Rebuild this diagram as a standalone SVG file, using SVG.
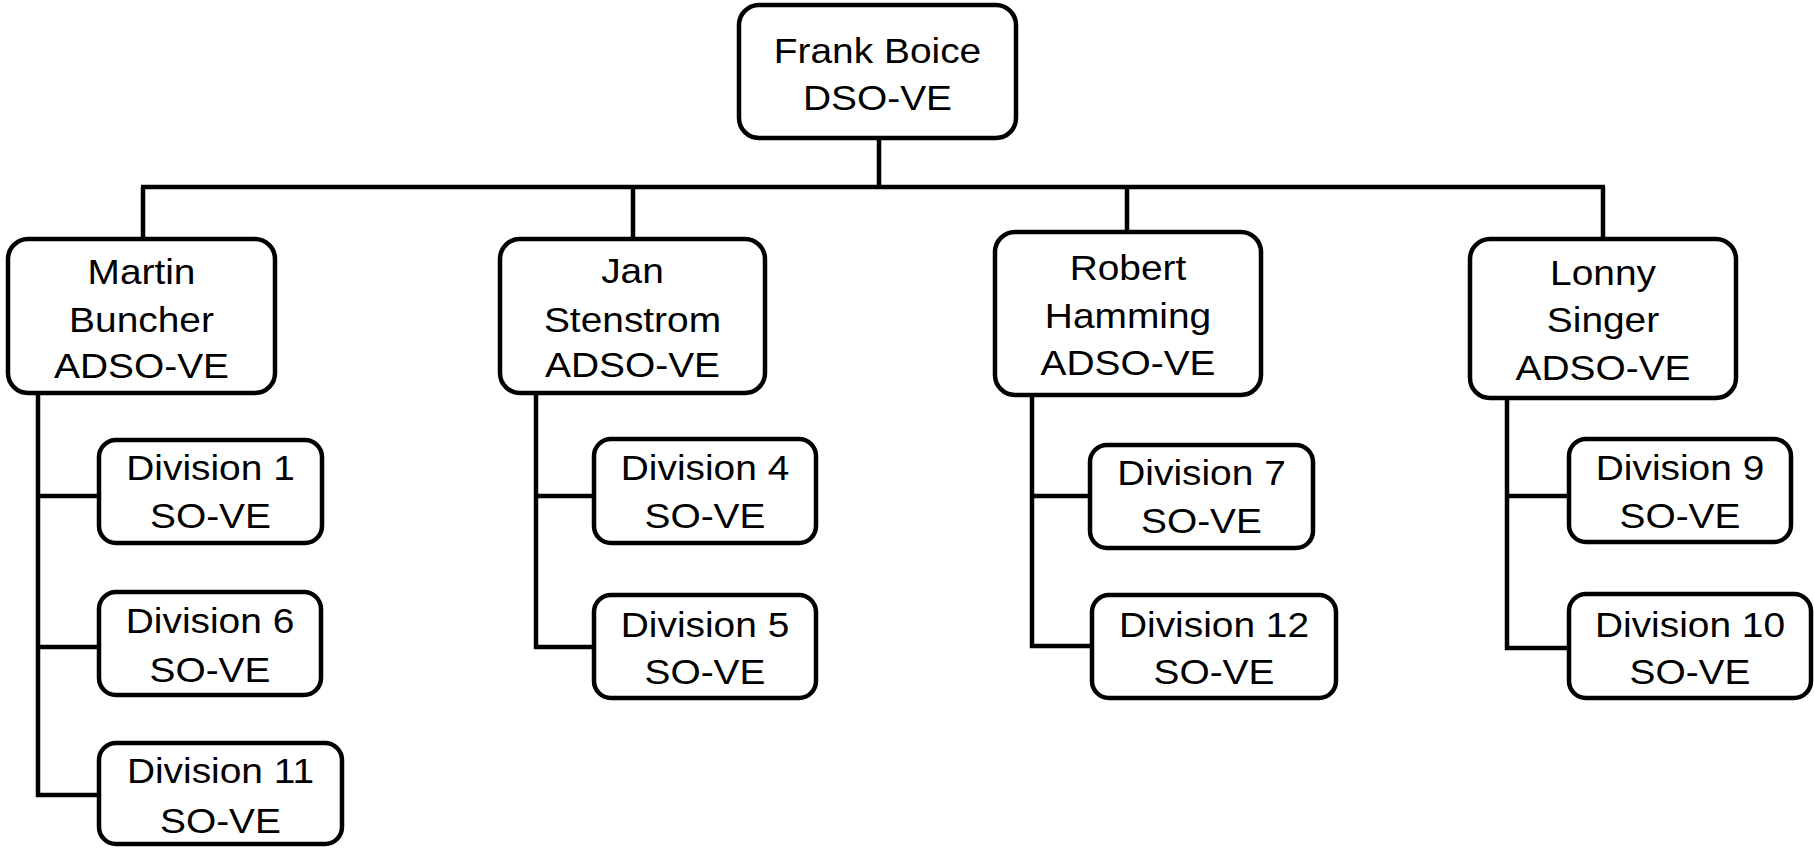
<svg xmlns="http://www.w3.org/2000/svg" width="1814" height="850" viewBox="0 0 1814 850">
<style>
.box{fill:#fff;stroke:#000;stroke-width:4.5}
.big{rx:20px;ry:20px}
.sm{rx:17px;ry:17px}
.t{font-family:"Liberation Sans",Arial,sans-serif;font-size:36px;fill:#000;text-anchor:middle}
.c{stroke:#000;stroke-width:4.5;fill:none}
</style>
<rect width="1814" height="850" fill="#fff"/>
<g id="connectors">
<path class="c" d="M879 140V187M141 187H1605M143 187V239M633 187V239M1127 187V232M1603 187V239"/>
<path class="c" d="M38 395V797M36 496H99M36 647H99M36 795H99"/>
<path class="c" d="M536 395V649M534 496H594M534 647H594"/>
<path class="c" d="M1032 397V648M1030 496H1090M1030 646H1092"/>
<path class="c" d="M1507 400V650M1505 496H1569M1505 648H1569"/>
</g>
<g id="frank">
<rect class="box big" x="739" y="5" width="277" height="133"/>
<text class="t" transform="translate(877.5 63) scale(1.08 1)">Frank Boice</text>
<text class="t" transform="translate(877.5 110) scale(1.08 1)">DSO-VE</text>
</g>
<g id="martin">
<rect class="box big" x="8" y="239" width="267" height="154"/>
<text class="t" transform="translate(141.5 284) scale(1.08 1)">Martin</text>
<text class="t" transform="translate(141.5 332) scale(1.08 1)">Buncher</text>
<text class="t" transform="translate(141.5 378) scale(1.08 1)">ADSO-VE</text>
</g>
<g id="jan">
<rect class="box big" x="500" y="239" width="265" height="154"/>
<text class="t" transform="translate(632.5 283) scale(1.08 1)">Jan</text>
<text class="t" transform="translate(632.5 332) scale(1.08 1)">Stenstrom</text>
<text class="t" transform="translate(632.5 377) scale(1.08 1)">ADSO-VE</text>
</g>
<g id="robert">
<rect class="box big" x="995" y="232" width="266" height="163"/>
<text class="t" transform="translate(1128 280) scale(1.08 1)">Robert</text>
<text class="t" transform="translate(1128 328) scale(1.08 1)">Hamming</text>
<text class="t" transform="translate(1128 375) scale(1.08 1)">ADSO-VE</text>
</g>
<g id="lonny">
<rect class="box big" x="1470" y="239" width="266" height="159"/>
<text class="t" transform="translate(1603 285) scale(1.08 1)">Lonny</text>
<text class="t" transform="translate(1603 332) scale(1.08 1)">Singer</text>
<text class="t" transform="translate(1603 380) scale(1.08 1)">ADSO-VE</text>
</g>
<g id="div1">
<rect class="box sm" x="99" y="440" width="223" height="103"/>
<text class="t" transform="translate(210.5 480) scale(1.08 1)">Division 1</text>
<text class="t" transform="translate(210.5 528) scale(1.08 1)">SO-VE</text>
</g>
<g id="div6">
<rect class="box sm" x="99" y="592" width="222" height="103"/>
<text class="t" transform="translate(210 633) scale(1.08 1)">Division 6</text>
<text class="t" transform="translate(210 682) scale(1.08 1)">SO-VE</text>
</g>
<g id="div11">
<rect class="box sm" x="99" y="743" width="243" height="101"/>
<text class="t" transform="translate(220.5 783) scale(1.08 1)">Division 11</text>
<text class="t" transform="translate(220.5 833) scale(1.08 1)">SO-VE</text>
</g>
<g id="div4">
<rect class="box sm" x="594" y="439" width="222" height="104"/>
<text class="t" transform="translate(705 480) scale(1.08 1)">Division 4</text>
<text class="t" transform="translate(705 528) scale(1.08 1)">SO-VE</text>
</g>
<g id="div5">
<rect class="box sm" x="594" y="595" width="222" height="103"/>
<text class="t" transform="translate(705 637) scale(1.08 1)">Division 5</text>
<text class="t" transform="translate(705 684) scale(1.08 1)">SO-VE</text>
</g>
<g id="div7">
<rect class="box sm" x="1090" y="445" width="223" height="103"/>
<text class="t" transform="translate(1201.5 485) scale(1.08 1)">Division 7</text>
<text class="t" transform="translate(1201.5 533) scale(1.08 1)">SO-VE</text>
</g>
<g id="div12">
<rect class="box sm" x="1092" y="595" width="244" height="103"/>
<text class="t" transform="translate(1214 637) scale(1.08 1)">Division 12</text>
<text class="t" transform="translate(1214 684) scale(1.08 1)">SO-VE</text>
</g>
<g id="div9">
<rect class="box sm" x="1569" y="439" width="222" height="103"/>
<text class="t" transform="translate(1680 480) scale(1.08 1)">Division 9</text>
<text class="t" transform="translate(1680 528) scale(1.08 1)">SO-VE</text>
</g>
<g id="div10">
<rect class="box sm" x="1569" y="594" width="242" height="104"/>
<text class="t" transform="translate(1690 637) scale(1.08 1)">Division 10</text>
<text class="t" transform="translate(1690 684) scale(1.08 1)">SO-VE</text>
</g>
</svg>
